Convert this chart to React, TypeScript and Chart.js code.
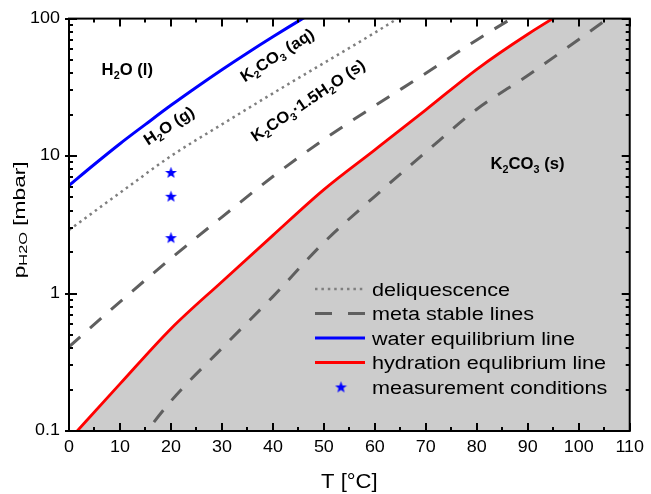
import React, { useEffect, useRef } from 'react';
import { Chart, registerables } from 'chart.js';

Chart.register(...registerables);

// ---------- data ----------
const xTicks = [0, 10, 20, 30, 40, 50, 60, 70, 80, 90, 100, 110];
const yTicks = [0.1, 1, 10, 100];
const yTickLabels = ['0.1', '1', '10', '100'];

const waterT = [0, 5, 10, 15, 20, 25, 30, 35, 40, 45, 50];
const waterP = [6.11, 8.72, 12.3, 17.0, 23.4, 31.7, 42.5, 56.3, 73.8, 95.9, 123.4];

const deliqT = [0, 10, 20, 30, 40, 50, 60, 70];
const deliqP = [2.9, 5.4, 10.0, 17.0, 28.6, 47.5, 79, 135];

const metaUpperT = [0, 10, 20, 30, 40, 50, 60, 70, 80, 90];
const metaUpperP = [0.41, 0.87, 1.8, 3.6, 7.1, 13.2, 23.2, 40, 70, 118];

const metaLowerT = [10, 20, 30, 40, 50, 60, 70, 80, 90, 100, 110];
const metaLowerP = [0.055, 0.165, 0.4, 0.95, 2.35, 5.1, 10.7, 21.9, 38.6, 70.5, 131];

const hydT = [0, 10, 20, 30, 40, 50, 60, 70, 80, 90, 100, 110];
const hydP = [0.086, 0.22, 0.555, 1.22, 2.65, 5.7, 11.1, 21.7, 42.8, 77, 130, 215];

const measT = [20, 20, 20];
const measP = [7.6, 5.1, 2.55];

const legendLabels = [
  'deliquescence',
  'meta stable lines',
  'water equilibrium line',
  'hydration equlibrium line',
  'measurement conditions',
];

type Part = { t: string; sub?: boolean };
const annotations: { parts: Part[]; T: number; p: number; angle: number }[] = [
  { parts: [{ t: 'H' }, { t: '2', sub: true }, { t: 'O (l)' }], T: 6.4, p: 38.6, angle: 0 },
  { parts: [{ t: 'H' }, { t: '2', sub: true }, { t: 'O (g)' }], T: 15.5, p: 11.9, angle: -33 },
  {
    parts: [{ t: 'K' }, { t: '2', sub: true }, { t: 'CO' }, { t: '3', sub: true }, { t: ' (aq)' }],
    T: 34.5, p: 34.3, angle: -33,
  },
  {
    parts: [
      { t: 'K' }, { t: '2', sub: true }, { t: 'CO' }, { t: '3', sub: true },
      { t: '·1.5H' }, { t: '2', sub: true }, { t: 'O (s)' },
    ],
    T: 36.6, p: 12.6, angle: -34,
  },
  {
    parts: [{ t: 'K' }, { t: '2', sub: true }, { t: 'CO' }, { t: '3', sub: true }, { t: ' (s)' }],
    T: 82.7, p: 8.05, angle: 0,
  },
];

const FONT = '"Liberation Sans", Arial, Helvetica, sans-serif';
const BLUE = '#0000ff';
const RED = '#ff0000';
const DOT_GREY = '#7f7f7f';
const DASH_GREY = '#5f5f5f';
const FILL_GREY = '#cccccc';

const zip = (xs: number[], ys: number[]) => xs.map((x, i) => ({ x, y: ys[i] }));

function makeStar(size: number, color: string) {
  const c = document.createElement('canvas');
  c.width = size;
  c.height = size;
  const g = c.getContext('2d')!;
  const cx = size / 2, cy = size / 2 + 0.5;
  const ro = size / 2 - 0.3, ri = ro * 0.42;
  g.beginPath();
  for (let i = 0; i < 10; i++) {
    const r = i % 2 === 0 ? ro : ri;
    const a = -Math.PI / 2 + (i * Math.PI) / 5;
    const px = cx + r * Math.cos(a), py = cy + r * Math.sin(a);
    if (i === 0) g.moveTo(px, py); else g.lineTo(px, py);
  }
  g.closePath();
  g.fillStyle = color;
  g.fill();
  return c;
}

export default function App() {
  const ref = useRef<HTMLCanvasElement>(null);

  useEffect(() => {
    document.body.style.margin = '0';
    const canvas = ref.current!;
    const ctx: any = canvas.getContext('2d')!;
    if (!ctx.__rawFill) {
      ctx.__rawFill = ctx.fillText.bind(ctx);
      ctx.__rawMeasure = ctx.measureText.bind(ctx);
    }
    const rawFill = ctx.__rawFill;
    const rawMeasure = ctx.__rawMeasure;
    ctx.__hs = 1.12; // horizontal stretch of the tick labels
    ctx.fillText = function (text: string, x: number, y: number) {
      ctx.save();
      ctx.translate(x, y);
      ctx.scale(ctx.__hs, 1);
      rawFill(text, 0, 0);
      ctx.restore();
    };
    ctx.measureText = function (text: string) {
      const m = rawMeasure(text);
      return { width: m.width * ctx.__hs };
    };

    const star = makeStar(13, BLUE);

    const drawRich = (
      parts: Part[], x: number, y: number,
      o: { size: number; bold?: boolean; hs: number; angle: number; align?: 'left' | 'center'; subScale?: number; subOff?: number }
    ) => {
      ctx.save();
      ctx.translate(x, y);
      ctx.rotate(o.angle);
      ctx.scale(o.hs, 1);
      const w = o.bold ? 'bold ' : '';
      const subSize = o.size * (o.subScale ?? 0.65);
      const mainFont = `${w}${o.size}px ${FONT}`;
      const subFont = `${w}${subSize}px ${FONT}`;
      ctx.textAlign = 'left';
      ctx.textBaseline = 'alphabetic';
      ctx.fillStyle = '#000';
      let total = 0;
      for (const p of parts) {
        ctx.font = p.sub ? subFont : mainFont;
        total += rawMeasure(p.t).width;
      }
      let cx = o.align === 'center' ? -total / 2 : 0;
      for (const p of parts) {
        ctx.font = p.sub ? subFont : mainFont;
        rawFill(p.t, cx, p.sub ? (o.subOff ?? o.size * 0.22) : 0);
        cx += rawMeasure(p.t).width;
      }
      ctx.restore();
    };

    const decor = {
      id: 'decor',
      afterDatasetsDraw(chart: any) {
        const a = chart.chartArea;
        const xs = chart.scales.x;
        const ys = chart.scales.y;
        ctx.save();
        ctx.strokeStyle = '#000';
        ctx.lineWidth = 2;
        ctx.setLineDash([]);
        ctx.beginPath();
        // x ticks (major + minor halfway)
        for (let i = 0; i < xTicks.length; i++) {
          const vals = [xTicks[i]];
          if (i < xTicks.length - 1) vals.push((xTicks[i] + xTicks[i + 1]) / 2);
          vals.forEach((v, k) => {
            const len = k === 0 ? 8 : 4;
            const px = Math.round(xs.getPixelForValue(v));
            ctx.moveTo(px, a.bottom);
            ctx.lineTo(px, a.bottom - len);
            ctx.moveTo(px, a.top);
            ctx.lineTo(px, a.top + len);
          });
        }
        // y ticks (log decades + minors)
        for (let i = 0; i < yTicks.length; i++) {
          const dec = yTicks[i];
          const lim = i < yTicks.length - 1 ? 9 : 1;
          for (let m = 1; m <= lim; m++) {
            const major = m === 1;
            const py = Math.round(ys.getPixelForValue(dec * m));
            const len = major ? 8 : 4;
            ctx.moveTo(a.left - (major ? 4 : 0), py);
            ctx.lineTo(a.left + len, py);
            ctx.moveTo(a.right, py);
            ctx.lineTo(a.right - len, py);
          }
        }
        ctx.stroke();
        ctx.strokeRect(a.left, a.top, a.right - a.left, a.bottom - a.top);

        // region annotations
        for (const an of annotations) {
          drawRich(an.parts, xs.getPixelForValue(an.T), ys.getPixelForValue(an.p), {
            size: 16, bold: true, hs: 1.04, angle: (an.angle * Math.PI) / 180,
          });
        }

        // legend
        const lx0 = 315, lx1 = 365, tx = 372, ly0 = 289, step = 24.5;
        const rows = legendLabels.map((_, i) => ly0 + i * step);
        ctx.lineCap = 'butt';
        // dotted
        ctx.strokeStyle = DOT_GREY; ctx.lineWidth = 2.5; ctx.setLineDash([2.5, 3.9]);
        ctx.beginPath(); ctx.moveTo(lx0, rows[0]); ctx.lineTo(lx1, rows[0]); ctx.stroke();
        // dashed
        ctx.strokeStyle = DASH_GREY; ctx.lineWidth = 3; ctx.setLineDash([17, 16]);
        ctx.beginPath(); ctx.moveTo(lx0, rows[1]); ctx.lineTo(lx1, rows[1]); ctx.stroke();
        ctx.setLineDash([]);
        ctx.strokeStyle = BLUE; ctx.lineWidth = 3;
        ctx.beginPath(); ctx.moveTo(lx0, rows[2]); ctx.lineTo(lx1, rows[2]); ctx.stroke();
        ctx.strokeStyle = RED; ctx.lineWidth = 3;
        ctx.beginPath(); ctx.moveTo(lx0, rows[3]); ctx.lineTo(lx1, rows[3]); ctx.stroke();
        ctx.drawImage(star, (lx0 + lx1) / 2 - star.width / 2 + 1, rows[4] - star.height / 2);
        legendLabels.forEach((lab, i) => {
          drawRich([{ t: lab }], tx, rows[i] + 6.5, { size: 18, hs: 1.2, angle: 0 });
        });

        // axis titles
        drawRich([{ t: 'p' }, { t: 'H2O', sub: true }, { t: ' [mbar]' }], 25, (a.top + a.bottom) / 2 - 5, {
          size: 16, hs: 1.42, angle: -Math.PI / 2, align: 'center', subScale: 0.72, subOff: 2,
        });
        drawRich([{ t: 'T [°C]' }], (a.left + a.right) / 2, 488, { size: 21, hs: 1.05, angle: 0, align: 'center' });
        ctx.restore();
      },
    };

    const tickFont = { family: FONT, size: 16 };

    const chart = new Chart(canvas, {
      type: 'line',
      data: {
        datasets: [
          {
            label: 'measurement conditions',
            data: zip(measT, measP),
            showLine: false,
            pointStyle: star as any,
            pointRadius: 6,
            borderColor: BLUE,
            backgroundColor: BLUE,
            order: 0,
          },
          {
            label: 'water equilibrium line',
            data: zip(waterT, waterP),
            borderColor: BLUE,
            borderWidth: 3,
            pointRadius: 0,
            cubicInterpolationMode: 'monotone',
            fill: false,
            order: 1,
          },
          {
            label: 'hydration equlibrium line',
            data: zip(hydT, hydP),
            borderColor: RED,
            borderWidth: 2.8,
            backgroundColor: FILL_GREY,
            fill: 'start',
            pointRadius: 0,
            cubicInterpolationMode: 'monotone',
            order: 2,
          },
          {
            label: 'deliquescence',
            data: zip(deliqT, deliqP),
            borderColor: DOT_GREY,
            borderWidth: 2.5,
            borderDash: [2.5, 3.9],
            pointRadius: 0,
            cubicInterpolationMode: 'monotone',
            fill: false,
            order: 3,
          },
          {
            label: 'meta stable lines',
            data: zip(metaUpperT, metaUpperP),
            borderColor: DASH_GREY,
            borderWidth: 3,
            borderDash: [15, 13],
            pointRadius: 0,
            cubicInterpolationMode: 'monotone',
            fill: false,
            order: 4,
          },
          {
            label: 'meta stable lines (2)',
            data: zip(metaLowerT, metaLowerP),
            borderColor: DASH_GREY,
            borderWidth: 3,
            borderDash: [15, 13],
            pointRadius: 0,
            cubicInterpolationMode: 'monotone',
            fill: false,
            order: 5,
          },
        ] as any,
      },
      options: {
        responsive: false,
        animation: false,
        devicePixelRatio: 1,
        layout: { padding: { top: 15, right: 19, left: 0, bottom: 0 } },
        plugins: {
          legend: { display: false },
          tooltip: { enabled: false },
          filler: { drawTime: 'beforeDatasetsDraw' } as any,
        },
        scales: {
          x: {
            type: 'linear',
            min: 0,
            max: 110,
            afterBuildTicks: (s: any) => { s.ticks = xTicks.map((v) => ({ value: v })); },
            afterFit: (s: any) => { s.height = 63; },
            ticks: { font: tickFont, color: '#000', padding: 7, maxRotation: 0, autoSkip: false, callback: (v: any) => String(v) },
            grid: { display: false, drawTicks: false },
            border: { display: false },
          },
          y: {
            type: 'logarithmic',
            min: 0.1,
            max: 100,
            afterBuildTicks: (s: any) => { s.ticks = yTicks.map((v) => ({ value: v })); },
            afterFit: (s: any) => { s.width = 69; },
            ticks: { font: tickFont, color: '#000', padding: 9, autoSkip: false, callback: (_v: any, i: number) => yTickLabels[i] },
            grid: { display: false, drawTicks: false },
            border: { display: false },
          },
        },
      } as any,
      plugins: [decor],
    });

    return () => chart.destroy();
  }, []);

  return (
    <div style={{ width: 651, height: 494 }}>
      <canvas ref={ref} width={651} height={494} style={{ display: 'block', width: '651px', height: '494px' }} />
    </div>
  );
}
